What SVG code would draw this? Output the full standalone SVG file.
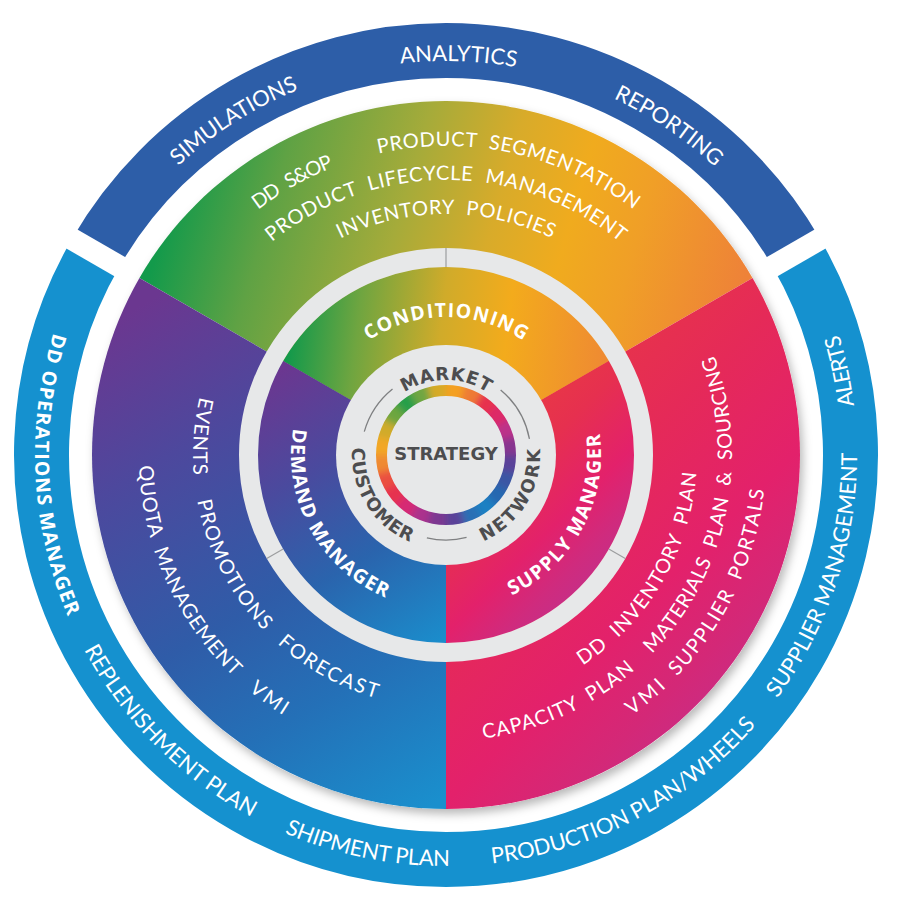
<svg xmlns="http://www.w3.org/2000/svg" width="900" height="900" viewBox="0 0 900 900">
<defs>
<style>
text{text-anchor:middle;}
.ol{font-family:Lato,"Liberation Sans",sans-serif;font-size:22px;fill:#fff;}
.ob{font-family:"Open Sans","Liberation Sans",sans-serif;font-weight:700;font-size:19.5px;fill:#fff;}
.sl{font-family:Lato,"Liberation Sans",sans-serif;font-size:20px;fill:#fff;word-spacing:6px;}
.mb{font-family:"Open Sans","Liberation Sans",sans-serif;font-weight:700;font-size:19.5px;fill:#fff;}
.ib{font-family:"DejaVu Sans",sans-serif;font-weight:bold;font-size:18px;fill:#4d4d4f;}
.gp{fill:none;stroke:#7f8082;stroke-width:1.3;}
.dv{stroke:#9c9d9f;stroke-width:1.2;}
.seg{fill:none;stroke-width:30;}
.gap{stroke:#fff;stroke-width:22;}
</style>
<filter id="sh" x="-10%" y="-10%" width="125%" height="125%"><feDropShadow dx="3" dy="5" stdDeviation="5" flood-color="#000" flood-opacity="0.28"/></filter>
<filter id="bl" x="-30%" y="-30%" width="160%" height="160%"><feGaussianBlur stdDeviation="3.5"/></filter>
<clipPath id="ringClip"><path clip-rule="evenodd" d="M376,455 A70,70 0 1 0 516,455 A70,70 0 1 0 376,455 Z M387,455 A59,59 0 1 0 505,455 A59,59 0 1 0 387,455 Z"/></clipPath>
<linearGradient id="gTop" gradientUnits="userSpaceOnUse" x1="180" y1="170" x2="730" y2="330">
<stop offset="0" stop-color="#139a4b"/><stop offset="0.17" stop-color="#5fa244"/><stop offset="0.39" stop-color="#a5ab3a"/><stop offset="0.55" stop-color="#d8ab2a"/><stop offset="0.68" stop-color="#f0ab1e"/><stop offset="0.8" stop-color="#f09f27"/><stop offset="1" stop-color="#ee8238"/>
</linearGradient>
<linearGradient id="gLeft" gradientUnits="userSpaceOnUse" x1="150" y1="300" x2="440" y2="800">
<stop offset="0" stop-color="#6b3790"/><stop offset="0.25" stop-color="#4d489d"/><stop offset="0.55" stop-color="#2f5ca8"/><stop offset="0.75" stop-color="#2470b7"/><stop offset="1" stop-color="#1a8fcd"/>
</linearGradient>
<linearGradient id="gRight" gradientUnits="userSpaceOnUse" x1="520" y1="420" x2="800" y2="700">
<stop offset="0" stop-color="#e7344a"/><stop offset="0.25" stop-color="#e52a58"/><stop offset="0.55" stop-color="#e3216b"/><stop offset="0.75" stop-color="#d42877"/><stop offset="1" stop-color="#bf3090"/>
</linearGradient>
<linearGradient id="mTop" gradientUnits="userSpaceOnUse" x1="290" y1="330" x2="620" y2="370">
<stop offset="0" stop-color="#12994b"/><stop offset="0.2" stop-color="#6fa540"/><stop offset="0.45" stop-color="#d0ab2a"/><stop offset="0.65" stop-color="#f3ab1c"/><stop offset="1" stop-color="#ee8536"/>
</linearGradient>
<linearGradient id="mLeft" gradientUnits="userSpaceOnUse" x1="280" y1="370" x2="440" y2="640">
<stop offset="0" stop-color="#6b3790"/><stop offset="0.33" stop-color="#4a4a9e"/><stop offset="0.65" stop-color="#2a64ad"/><stop offset="1" stop-color="#1b8ccb"/>
</linearGradient>
<linearGradient id="mRight" gradientUnits="userSpaceOnUse" x1="520" y1="380" x2="670" y2="530">
<stop offset="0" stop-color="#e93b43"/><stop offset="0.3" stop-color="#e6304f"/><stop offset="0.6" stop-color="#e3216b"/><stop offset="0.8" stop-color="#cf2b7e"/><stop offset="1" stop-color="#c0308d"/>
</linearGradient>
<path id="pA1" d="M60.33,374.43 A394,394 0 0 1 835.97,398.80"/>
<path id="pA2" d="M81.73,605.14 A394,394 0 0 1 736.95,189.33"/>
<path id="pA3" d="M163.06,180.81 A394,394 0 0 1 805.66,615.88"/>
<path id="pA4" d="M354.24,54.37 A411,411 0 0 0 395.20,862.85"/>
<path id="pA5" d="M109.33,219.26 A411,411 0 0 0 681.74,791.67"/>
<path id="pA6" d="M35.11,445.68 A411,411 0 0 0 828.92,604.30"/>
<path id="pA7" d="M120.81,706.34 A411,411 0 0 0 837.54,330.04"/>
<path id="pA8" d="M388.80,862.00 A411,411 0 0 0 638.95,92.11"/>
<path id="pA9" d="M599.96,836.07 A411,411 0 0 0 431.66,44.25"/>
<path id="pB1" d="M310.10,431.04 A138,138 0 0 1 581.90,431.04"/>
<path id="pB2" d="M349.51,333.70 A155,155 0 0 0 495.18,601.99"/>
<path id="pB3" d="M396.82,601.99 A155,155 0 0 0 542.49,333.70"/>
<path id="pC1" d="M372.14,441.98 A75,75 0 0 1 519.86,441.98"/>
<path id="pC2" d="M383.71,384.60 A94,94 0 0 0 480.45,542.46"/>
<path id="pC3" d="M411.55,542.46 A94,94 0 0 0 508.29,384.60"/>
<path id="pD1" d="M154.55,557.64 A309,309 0 0 1 684.77,258.88"/>
<path id="pD2" d="M160.31,337.25 A309,309 0 0 1 754.73,467.94"/>
<path id="pD3" d="M175.18,407.25 A275,275 0 0 1 716.82,407.25"/>
<path id="pD4" d="M208.66,413.15 A241,241 0 0 1 683.34,413.15"/>
<path id="pE1" d="M421.31,203.21 A253,253 0 0 0 383.08,700.05"/>
<path id="pE2" d="M293.04,253.48 A253,253 0 0 0 520.81,696.69"/>
<path id="pE3" d="M206.64,373.05 A253,253 0 0 0 642.89,613.87"/>
<path id="pE4" d="M273.85,200.79 A307,307 0 0 0 520.79,752.75"/>
<path id="pE5" d="M170.07,320.42 A307,307 0 0 0 659.26,675.84"/>
<path id="pF1" d="M358.10,690.10 A251,251 0 0 0 609.01,264.14"/>
<path id="pF2" d="M210.02,616.58 A286,286 0 0 0 723.01,383.87"/>
<path id="pF3" d="M437.02,740.86 A286,286 0 0 0 552.21,189.45"/>
<path id="pF4" d="M238.18,698.33 A320,320 0 0 0 724.52,297.43"/>
<path id="pF5" d="M363.18,764.10 A320,320 0 0 0 629.55,192.87"/>
</defs>

<g id="ring-top">
<path d="M95.69,252.75 A404.5,404.5 0 0 1 796.31,252.75" fill="none" stroke="#2d5ea8" stroke-width="55"/>
<text class="ol"><textPath href="#pA1" startOffset="50%" textLength="116" lengthAdjust="spacing">ANALYTICS</textPath></text>
<text class="ol"><textPath href="#pA2" startOffset="50%" textLength="143" lengthAdjust="spacing">SIMULATIONS</textPath></text>
<text class="ol"><textPath href="#pA3" startOffset="50%" textLength="123" lengthAdjust="spacing">REPORTING</textPath></text>
</g>
<g id="ring-bottom">
<path d="M95.69,252.75 A404.5,404.5 0 1 0 796.31,252.75" fill="none" stroke="#1591cf" stroke-width="55"/>
<text class="ob"><textPath href="#pA4" startOffset="50%" textLength="290" lengthAdjust="spacing">DD OPERATIONS MANAGER</textPath></text>
<text class="ol"><textPath href="#pA5" startOffset="50%" textLength="240" lengthAdjust="spacing">REPLENISHMENT PLAN</textPath></text>
<text class="ol"><textPath href="#pA6" startOffset="50%" textLength="170" lengthAdjust="spacing">SHIPMENT PLAN</textPath></text>
<text class="ol"><textPath href="#pA7" startOffset="50%" textLength="305" lengthAdjust="spacing">PRODUCTION PLAN/WHEELS</textPath></text>
<text class="ol"><textPath href="#pA8" startOffset="50%" textLength="263" lengthAdjust="spacing">SUPPLIER MANAGEMENT</textPath></text>
<text class="ol"><textPath href="#pA9" startOffset="50%" textLength="73" lengthAdjust="spacing">ALERTS</textPath></text>
</g>
<g id="ring-gaps">
<line class="gap" x1="134.23" y1="275" x2="60.62" y2="232.5"/>
<line class="gap" x1="757.77" y1="275" x2="831.38" y2="232.5"/>
</g>

<circle id="wheel-shadow" cx="446" cy="455" r="354" fill="#fff" filter="url(#sh)"/>

<g id="sector-top">
<path d="M446,455 L752.57,278 A354,354 0 0 0 139.43,278 Z" fill="url(#gTop)"/>
<text class="sl"><textPath href="#pD1" startOffset="50%" textLength="87" lengthAdjust="spacing">DD S&amp;OP</textPath></text>
<text class="sl"><textPath href="#pD2" startOffset="50%" textLength="270" lengthAdjust="spacing">PRODUCT SEGMENTATION</textPath></text>
<text class="sl"><textPath href="#pD3" startOffset="50%" textLength="377" lengthAdjust="spacing">PRODUCT LIFECYCLE MANAGEMENT</textPath></text>
<text class="sl"><textPath href="#pD4" startOffset="50%" textLength="219" lengthAdjust="spacing">INVENTORY POLICIES</textPath></text>
</g>
<g id="sector-left">
<path d="M446,455 L139.43,278 A354,354 0 0 0 446,809 Z" fill="url(#gLeft)"/>
<text class="sl"><textPath href="#pE1" startOffset="50%" textLength="79" lengthAdjust="spacing">EVENTS</textPath></text>
<text class="sl"><textPath href="#pE2" startOffset="50%" textLength="148" lengthAdjust="spacing">PROMOTIONS</textPath></text>
<text class="sl"><textPath href="#pE3" startOffset="50%" textLength="114" lengthAdjust="spacing">FORECAST</textPath></text>
<text class="sl"><textPath href="#pE4" startOffset="50%" textLength="237" lengthAdjust="spacing">QUOTA MANAGEMENT</textPath></text>
<text class="sl"><textPath href="#pE5" startOffset="50%" textLength="43" lengthAdjust="spacing">VMI</textPath></text>
</g>
<g id="sector-right">
<path d="M446,455 L446,809 A354,354 0 0 0 752.57,278 Z" fill="url(#gRight)"/>
<text class="sl"><textPath href="#pF1" startOffset="50%" textLength="232" lengthAdjust="spacing">DD INVENTORY PLAN</textPath></text>
<text class="sl"><textPath href="#pF2" startOffset="50%" textLength="169" lengthAdjust="spacing">CAPACITY PLAN</textPath></text>
<text class="sl"><textPath href="#pF3" startOffset="50%" textLength="321" lengthAdjust="spacing">MATERIALS PLAN &amp; SOURCING</textPath></text>
<text class="sl"><textPath href="#pF4" startOffset="50%" textLength="45" lengthAdjust="spacing">VMI</textPath></text>
<text class="sl"><textPath href="#pF5" startOffset="50%" textLength="210" lengthAdjust="spacing">SUPPLIER PORTALS</textPath></text>
</g>

<g id="core-conditioning">
<path d="M446,455 L608.81,361 A188,188 0 0 0 283.19,361 Z" fill="url(#mTop)"/>
<text class="mb"><textPath href="#pB1" startOffset="50%" textLength="164" lengthAdjust="spacing">CONDITIONING</textPath></text>
</g>
<g id="core-demand">
<path d="M446,455 L283.19,361 A188,188 0 0 0 446,643 Z" fill="url(#mLeft)"/>
<text class="mb"><textPath href="#pB2" startOffset="50%" textLength="208" lengthAdjust="spacing">DEMAND MANAGER</textPath></text>
</g>
<g id="core-supply">
<path d="M446,455 L446,643 A188,188 0 0 0 608.81,361 Z" fill="url(#mRight)"/>
<text class="mb"><textPath href="#pB3" startOffset="50%" textLength="197" lengthAdjust="spacing">SUPPLY MANAGER</textPath></text>
</g>

<g id="grey-ring">
<circle cx="446" cy="455" r="197.5" fill="none" stroke="#e7e8e9" stroke-width="19"/>
<line class="dv" x1="446" y1="267" x2="446" y2="248"/>
<line class="dv" x1="283.19" y1="549" x2="266.73" y2="558.5"/>
<line class="dv" x1="608.81" y1="549" x2="625.27" y2="558.5"/>
</g>

<g id="strategy-hub">
<circle cx="446" cy="455" r="110" fill="#e7e8e9"/>
<g clip-path="url(#ringClip)"><g filter="url(#bl)">
<path class="seg" stroke="#f4a020" d="M446,390.5 A64.5,64.5 0 0 1 478.25,399.14"/>
<path class="seg" stroke="#ee7a35" d="M462.69,392.70 A64.5,64.5 0 0 1 491.61,409.39"/>
<path class="seg" stroke="#e7334d" d="M478.25,399.14 A64.5,64.5 0 0 1 501.86,422.75"/>
<path class="seg" stroke="#dd2a68" d="M491.61,409.39 A64.5,64.5 0 0 1 508.30,438.31"/>
<path class="seg" stroke="#bc3089" d="M501.86,422.75 A64.5,64.5 0 0 1 510.5,455"/>
<path class="seg" stroke="#87368f" d="M508.30,438.31 A64.5,64.5 0 0 1 508.30,471.69"/>
<path class="seg" stroke="#5a4299" d="M510.5,455 A64.5,64.5 0 0 1 501.86,487.25"/>
<path class="seg" stroke="#3a57a4" d="M508.30,471.69 A64.5,64.5 0 0 1 491.61,500.61"/>
<path class="seg" stroke="#2867b0" d="M501.86,487.25 A64.5,64.5 0 0 1 478.25,510.86"/>
<path class="seg" stroke="#1d80c3" d="M491.61,500.61 A64.5,64.5 0 0 1 462.69,517.30"/>
<path class="seg" stroke="#2a70b5" d="M478.25,510.86 A64.5,64.5 0 0 1 446,519.5"/>
<path class="seg" stroke="#5a4299" d="M462.69,517.30 A64.5,64.5 0 0 1 429.31,517.30"/>
<path class="seg" stroke="#7b3791" d="M446,519.5 A64.5,64.5 0 0 1 413.75,510.86"/>
<path class="seg" stroke="#ab338d" d="M429.31,517.30 A64.5,64.5 0 0 1 400.39,500.61"/>
<path class="seg" stroke="#d52b75" d="M413.75,510.86 A64.5,64.5 0 0 1 390.14,487.25"/>
<path class="seg" stroke="#e63250" d="M400.39,500.61 A64.5,64.5 0 0 1 383.70,471.69"/>
<path class="seg" stroke="#ea5040" d="M390.14,487.25 A64.5,64.5 0 0 1 381.5,455"/>
<path class="seg" stroke="#ef8a32" d="M383.70,471.69 A64.5,64.5 0 0 1 383.70,438.31"/>
<path class="seg" stroke="#f2a726" d="M381.5,455 A64.5,64.5 0 0 1 390.14,422.75"/>
<path class="seg" stroke="#d0ab2c" d="M383.70,438.31 A64.5,64.5 0 0 1 400.39,409.39"/>
<path class="seg" stroke="#6da640" d="M390.14,422.75 A64.5,64.5 0 0 1 413.75,399.14"/>
<path class="seg" stroke="#269f49" d="M400.39,409.39 A64.5,64.5 0 0 1 429.31,392.70"/>
<path class="seg" stroke="#6fa642" d="M413.75,399.14 A64.5,64.5 0 0 1 446,390.5"/>
<path class="seg" stroke="#d6aa28" d="M429.31,392.70 A64.5,64.5 0 0 1 446,390.5"/>
</g></g>
<path class="gp" d="M500.64,389.89 A85,85 0 0 1 529.44,438.78"/>
<path class="gp" d="M364.29,431.57 A85,85 0 0 1 392.51,388.94"/>
<path class="gp" d="M426.88,537.82 A85,85 0 0 0 466.56,537.47"/>
<text class="ib"><textPath href="#pC1" startOffset="50%" textLength="88" lengthAdjust="spacing">MARKET</textPath></text>
<text class="ib"><textPath href="#pC2" startOffset="50%" textLength="118" lengthAdjust="spacing">CUSTOMER</textPath></text>
<text class="ib"><textPath href="#pC3" startOffset="50%" textLength="115" lengthAdjust="spacing">NETWORK</textPath></text>
<text class="ib" x="446" y="459.5" fill="#58595b">STRATEGY</text>
</g>
</svg>
